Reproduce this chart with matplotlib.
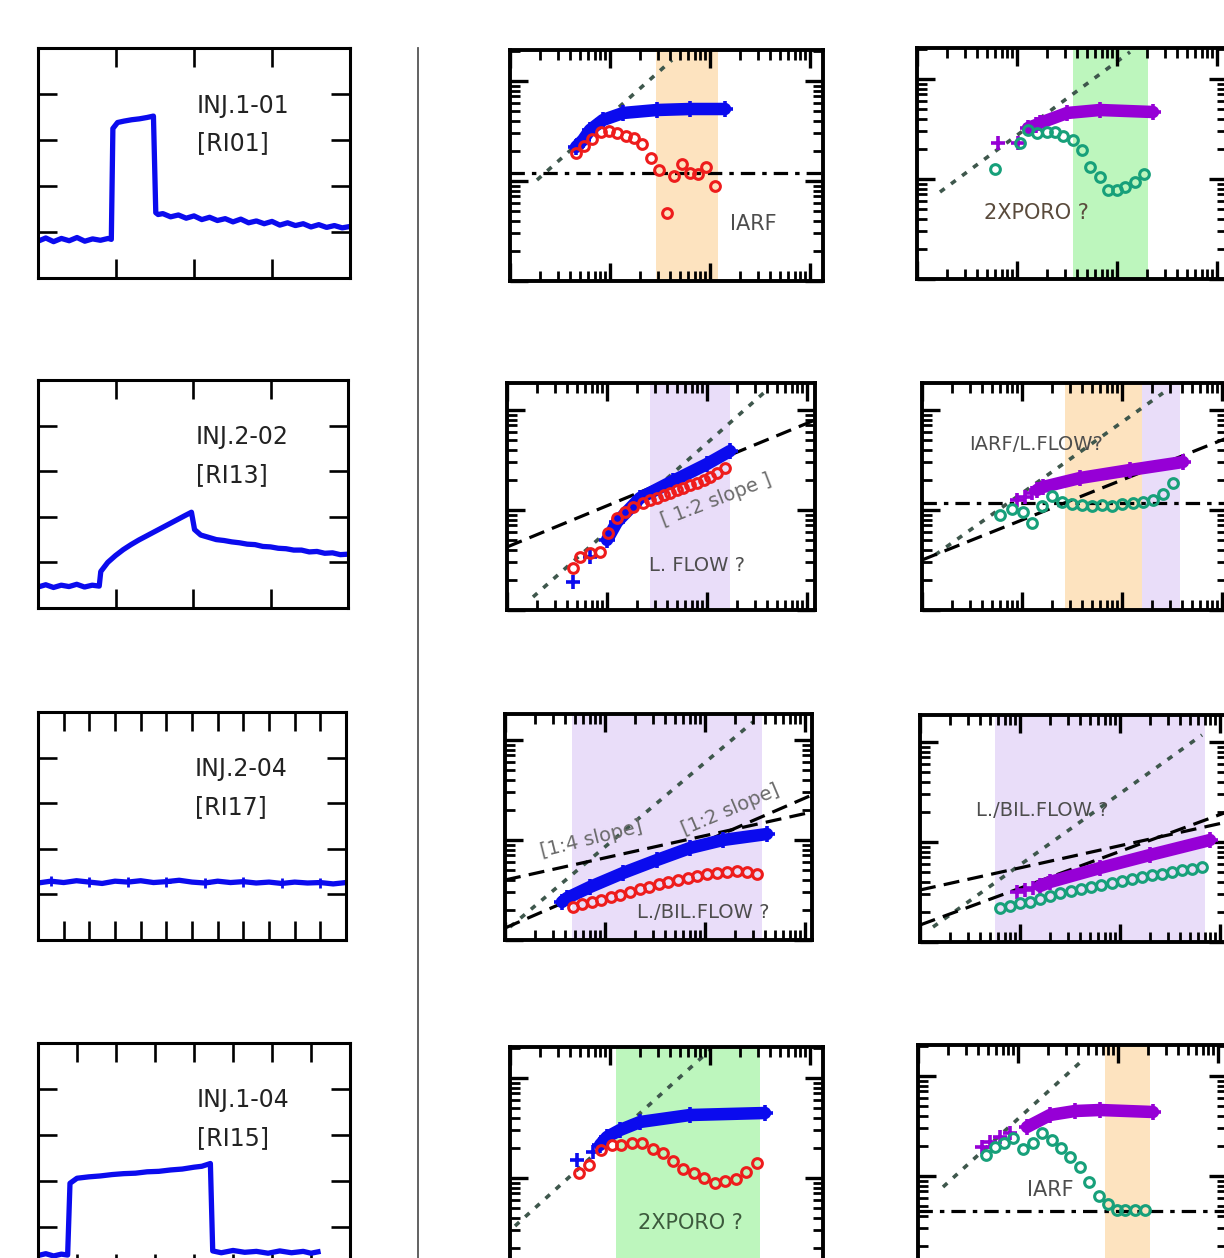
import matplotlib.pyplot as plt
import numpy as np
from matplotlib.lines import Line2D

# ---------------- left column : pressure records (time, pressure) ----------------
l1_t = [0, 1, 2, 3, 4, 5, 6, 7, 8, 9, 9.4, 9.6, 10.2, 11, 12, 13, 14, 14.8, 15.1, 15.4,
        16, 17, 18, 19, 20, 21, 22, 23, 24, 25, 26, 27, 28, 29, 30, 31, 32, 33, 34, 35,
        36, 37, 38, 39, 40]
l1_p = [0.80, 0.87, 0.79, 0.86, 0.81, 0.88, 0.80, 0.85, 0.82, 0.86, 0.84, 3.25, 3.38, 3.41,
        3.44, 3.46, 3.49, 3.52, 1.42, 1.38, 1.40, 1.33, 1.37, 1.30, 1.35, 1.27, 1.32, 1.25,
        1.29, 1.22, 1.28, 1.20, 1.24, 1.18, 1.23, 1.15, 1.20, 1.14, 1.18, 1.11, 1.16, 1.10,
        1.14, 1.09, 1.12]

l2_t = [0, 1, 2, 3, 4, 5, 6, 7, 7.9, 8.1, 9, 10, 11, 12, 13, 14, 15, 16, 17, 18, 19, 19.8,
        20.2, 21, 22, 23, 24, 25, 26, 27, 28, 29, 30, 31, 32, 33, 34, 35, 36, 37, 38, 39, 40]
l2_p = [0.46, 0.51, 0.45, 0.50, 0.47, 0.52, 0.46, 0.50, 0.48, 0.80, 1.00, 1.15, 1.28, 1.39,
        1.49, 1.58, 1.67, 1.76, 1.85, 1.94, 2.03, 2.10, 1.72, 1.60, 1.55, 1.50, 1.48, 1.45,
        1.43, 1.40, 1.39, 1.35, 1.34, 1.31, 1.30, 1.27, 1.27, 1.23, 1.24, 1.20, 1.21, 1.17,
        1.18]

l3_t = [0, 0.5, 1, 1.5, 2, 2.5, 3, 3.5, 4, 4.5, 5, 5.5, 6, 6.5, 7, 7.5, 8, 8.5, 9, 9.5, 10,
        10.5, 11, 11.5, 12]
l3_p = [1.25, 1.29, 1.26, 1.30, 1.27, 1.24, 1.29, 1.27, 1.30, 1.26, 1.28, 1.31, 1.27, 1.25,
        1.29, 1.26, 1.28, 1.25, 1.27, 1.24, 1.27, 1.25, 1.26, 1.23, 1.26]

l4_t = [0, 0.2, 0.4, 0.6, 0.76, 0.82, 1.0, 1.3, 1.6, 1.9, 2.2, 2.5, 2.8, 3.1, 3.4, 3.7, 4.0,
        4.2, 4.42, 4.48, 4.7, 5.0, 5.3, 5.6, 5.9, 6.2, 6.5, 6.8, 7.0, 7.18]
l4_p = [0.38, 0.42, 0.37, 0.41, 0.39, 1.95, 2.06, 2.09, 2.11, 2.14, 2.16, 2.17, 2.20, 2.21,
        2.24, 2.26, 2.30, 2.32, 2.38, 0.48, 0.44, 0.49, 0.45, 0.47, 0.43, 0.48, 0.44, 0.47,
        0.43, 0.46]

inj_names = ["INJ.1-01", "INJ.2-02", "INJ.2-04", "INJ.1-04"]
inj_codes = ["[RI01]", "[RI13]", "[RI17]", "[RI15]"]

# ------------- log-log diagnostics, stored as log10(dt) / log10(dp) -------------
# middle column (blue pressure, red derivative)
m1_red_lt = [-1.34, -1.26, -1.18, -1.09, -1.01, -0.93, -0.84, -0.76, -0.68, -0.59, -0.51,
             -0.43, -0.36, -0.28, -0.20, -0.12, -0.04, 0.05]
m1_red_lp = [0.28, 0.35, 0.42, 0.49, 0.50, 0.48, 0.45, 0.43, 0.37, 0.23, 0.11, -0.32, 0.05,
             0.17, 0.08, 0.07, 0.14, -0.05]
m1_blue_lt = [-1.34, -1.27, -1.20, -1.07, -0.87, -0.53, -0.20, 0.15]
m1_blue_lp = [0.34, 0.41, 0.51, 0.61, 0.68, 0.71, 0.72, 0.72]
m1_unit_lt = [-1.73, -0.38]
m1_unit_lp = [0.01, 1.21]
m1_flat_lp = 0.08
m1_zone = [-0.54, 0.08]

m2_red_lt = [-1.34, -1.27, -1.17, -1.07, -0.99, -0.90, -0.82, -0.74, -0.64, -0.57, -0.50,
             -0.43, -0.37, -0.30, -0.24, -0.17, -0.10, -0.03, 0.03, 0.10, 0.18]
m2_red_lp = [-0.58, -0.47, -0.43, -0.42, -0.23, -0.08, -0.02, 0.03, 0.07, 0.10, 0.12, 0.15,
             0.17, 0.20, 0.22, 0.25, 0.27, 0.30, 0.33, 0.37, 0.42]
m2_early_lt = [-1.34, -1.17]
m2_early_lp = [-0.72, -0.47]
m2_blue_lt = [-1.00, -0.90, -0.67, -0.34, 0.00, 0.23]
m2_blue_lp = [-0.30, -0.12, 0.12, 0.29, 0.46, 0.59]
m2_unit_lt = [-1.74, 0.60]
m2_unit_lp = [-0.87, 1.20]
m2_half_lt = [-2.0, 1.08]
m2_half_lp = [-0.37, 0.90]
m2_zone = [-0.57, 0.23]

m3_red_lt = [-1.32, -1.23, -1.13, -1.04, -0.94, -0.85, -0.75, -0.65, -0.56, -0.46, -0.37,
             -0.27, -0.17, -0.08, 0.02, 0.12, 0.22, 0.32, 0.42, 0.52]
m3_red_lp = [-0.67, -0.64, -0.62, -0.60, -0.57, -0.55, -0.52, -0.49, -0.47, -0.44, -0.42,
             -0.40, -0.38, -0.36, -0.34, -0.33, -0.32, -0.31, -0.32, -0.34]
m3_blue_lt = [-1.43, -1.38, -1.15, -0.82, -0.48, -0.15, 0.18, 0.62]
m3_blue_lp = [-0.62, -0.58, -0.47, -0.33, -0.20, -0.08, 0.00, 0.06]
m3_unit_lt = [-1.95, 0.48]
m3_unit_lp = [-0.87, 1.18]
m3_quarter_lt = [-2.0, 1.07]
m3_quarter_lp = [-0.40, 0.28]
m3_half_lt = [-2.0, 1.07]
m3_half_lp = [-0.88, 0.45]
m3_zone = [-1.33, 0.57]

m4_red_lt = [-1.31, -1.21, -1.09, -0.98, -0.89, -0.78, -0.68, -0.57, -0.47, -0.37, -0.27,
             -0.16, -0.06, 0.05, 0.15, 0.26, 0.36, 0.47]
m4_red_lp = [0.05, 0.13, 0.28, 0.33, 0.33, 0.35, 0.35, 0.29, 0.25, 0.17, 0.09, 0.05, 0.00,
             -0.05, -0.03, -0.01, 0.06, 0.15]
m4_early_lt = [-1.33, -1.17]
m4_early_lp = [0.18, 0.26]
m4_blue_lt = [-1.10, -1.03, -0.90, -0.70, -0.20, 0.55]
m4_blue_lp = [0.33, 0.41, 0.48, 0.56, 0.63, 0.65]
m4_unit_lt = [-1.95, 0.00]
m4_unit_lp = [-0.48, 1.28]
m4_zone = [-0.94, 0.50]

# right column (purple pressure, green derivative)
r1_teal_lt = [-1.22, -0.97, -0.89, -0.80, -0.70, -0.62, -0.54, -0.44, -0.35, -0.27, -0.17,
              -0.09, 0.00, 0.08, 0.18, 0.27]
r1_teal_lp = [0.10, 0.36, 0.49, 0.46, 0.47, 0.47, 0.43, 0.39, 0.29, 0.12, 0.02, -0.11, -0.11,
              -0.08, -0.03, 0.05]
r1_early_lt = [-1.19, -0.99]
r1_early_lp = [0.36, 0.36]
r1_purp_lt = [-0.89, -0.81, -0.77, -0.50, -0.17, 0.36]
r1_purp_lp = [0.51, 0.54, 0.56, 0.66, 0.69, 0.67]
r1_unit_lt = [-1.77, 0.13]
r1_unit_lp = [-0.13, 1.27]
r1_zone = [-0.44, 0.31]

r2_teal_lt = [-1.22, -1.10, -0.99, -0.90, -0.80, -0.70, -0.60, -0.50, -0.40, -0.30, -0.20,
              -0.10, 0.00, 0.11, 0.21, 0.31, 0.41, 0.51]
r2_teal_lp = [-0.05, 0.01, -0.02, -0.13, 0.04, 0.14, 0.08, 0.06, 0.05, 0.04, 0.05, 0.04,
              0.06, 0.07, 0.08, 0.10, 0.16, 0.27]
r2_early_lt = [-1.05, -0.97, -0.90]
r2_early_lp = [0.10, 0.13, 0.17]
r2_purp_lt = [-0.85, -0.79, -0.42, 0.08, 0.61]
r2_purp_lp = [0.20, 0.23, 0.32, 0.40, 0.48]
r2_unit_lt = [-1.87, 0.41]
r2_unit_lp = [-0.45, 1.17]
r2_half_lt = [-2.0, 1.05]
r2_half_lp = [-0.50, 0.72]
r2_flat_lp = 0.07
r2_zone_a = [-0.57, 0.20]
r2_zone_b = [0.20, 0.58]

r3_teal_lt = [-1.20, -1.10, -1.00, -0.90, -0.80, -0.70, -0.60, -0.49, -0.39, -0.29, -0.19,
              -0.08, 0.02, 0.12, 0.22, 0.32, 0.42, 0.52, 0.62, 0.72, 0.82]
r3_teal_lp = [-0.66, -0.64, -0.61, -0.60, -0.57, -0.54, -0.51, -0.49, -0.47, -0.45, -0.43,
              -0.41, -0.39, -0.37, -0.35, -0.33, -0.32, -0.30, -0.28, -0.27, -0.25]
r3_early_lt = [-1.03, -0.95, -0.87]
r3_early_lp = [-0.50, -0.48, -0.46]
r3_purp_lt = [-0.80, -0.70, -0.20, 0.30, 0.90]
r3_purp_lp = [-0.44, -0.40, -0.26, -0.13, 0.02]
r3_unit_lt = [-1.87, 0.82]
r3_unit_lp = [-0.85, 1.07]
r3_quarter_lt = [-2.0, 1.07]
r3_quarter_lp = [-0.48, 0.20]
r3_half_lt = [-2.0, 1.07]
r3_half_lp = [-0.83, 0.30]
r3_zone = [-1.25, 0.85]

r4_teal_lt = [-1.32, -1.23, -1.14, -1.05, -0.95, -0.85, -0.76, -0.66, -0.57, -0.48, -0.38,
              -0.29, -0.19, -0.10, -0.01, 0.07, 0.17, 0.27]
r4_teal_lp = [0.21, 0.29, 0.33, 0.38, 0.27, 0.33, 0.43, 0.36, 0.28, 0.19, 0.09, -0.06, -0.20,
              -0.28, -0.34, -0.34, -0.34, -0.34]
r4_early_lt = [-1.36, -1.28, -1.18, -1.08]
r4_early_lp = [0.29, 0.34, 0.39, 0.43]
r4_purp_lt = [-0.91, -0.68, -0.43, -0.18, 0.35]
r4_purp_lp = [0.49, 0.61, 0.65, 0.66, 0.64]
r4_unit_lt = [-1.75, -0.33]
r4_unit_lp = [-0.11, 1.18]
r4_flat_lp = -0.35
r4_zone = [-0.13, 0.32]

# ---------------------------------------------------------------------------------
BLUE = '#0b0bee'
RED = '#ee1c1c'
PURPLE = '#9600d6'
TEAL = '#17a07a'
DOT = '#3e574c'
ORANGE_Z = '#fde3bf'
GREEN_Z = '#bdf6bd'
LILAC_Z = '#e9ddf9'
TXT = '#4d4d4d'

W, H = 1224, 1258
fig = plt.figure(figsize=(W / 100, H / 100), dpi=100)
fig.patch.set_facecolor('white')


def px_axes(x0, y0, x1, y1):
    return fig.add_axes([x0 / W, 1 - y1 / H, (x1 - x0) / W, (y1 - y0) / H])


def trace_axes(x0, y0, x1, y1, xmax, step):
    ax = px_axes(x0, y0, x1, y1)
    ax.set_xlim(0, xmax)
    ax.set_ylim(0, 5)
    ax.set_xticks(np.arange(step, xmax - 1e-6, step))
    ax.set_yticks([1, 2, 3, 4])
    ax.tick_params(direction='in', top=True, right=True, length=14, width=1.9,
                   labelleft=False, labelbottom=False)
    for s in ax.spines.values():
        s.set_linewidth(2.2)
    return ax


def diag_axes(x0, y0, x1, y1):
    ax = px_axes(x0, y0, x1, y1)
    ax.set_xscale('log')
    ax.set_yscale('log')
    ax.set_xlim(10 ** -2, 10 ** (-2 + (x1 - x0) / 100))
    ax.set_ylim(10 ** -1, 10 ** (-1 + (y1 - y0) / 100))
    ax.tick_params(which='both', direction='in', top=True, right=True,
                   labelleft=False, labelbottom=False)
    ax.tick_params(which='major', length=13, width=2.4)
    ax.tick_params(which='minor', length=7, width=2.0)
    for s in ax.spines.values():
        s.set_linewidth(2.8)
    return ax


def P(a):
    return 10 ** np.asarray(a, dtype=float)


def zone(ax, z, c):
    ax.axvspan(P(z[0]), P(z[1]), color=c, lw=0, zorder=0)


def unit(ax, lt, lp):
    ax.plot(P(lt), P(lp), color=DOT, lw=2.6, ls=(0, (1.6, 2.2)), zorder=1)


def dashed(ax, lt, lp):
    ax.plot(P(lt), P(lp), color='black', lw=2.3, ls=(0, (5, 2.6)), zorder=1)


def flat(ax, lp):
    ax.axhline(P(lp), color='black', lw=2.3, ls=(0, (4.5, 2.2, 1.4, 2.2)), zorder=1)


def circles(ax, lt, lp, c):
    ax.plot(P(lt), P(lp), 'o', mfc='none', mec=c, mew=2.2, ms=7, zorder=4)


def band(ax, lt, lp, c, early=None):
    ax.plot(P(lt), P(lp), '-', color=c, lw=9, solid_capstyle='round', zorder=3)
    ax.plot(P(lt), P(lp), '+', color=c, ms=11, mew=2.6, zorder=3)
    if early is not None:
        ax.plot(P(early[0]), P(early[1]), '+', color=c, ms=10, mew=2.6, zorder=3)


def label(ax, x, y, s, size=14, rot=0, color=TXT):
    ax.text(x, y, s, transform=ax.transAxes, ha='center', va='center', fontsize=size,
            rotation=rot, color=color, zorder=5)


# ---------------- left column ----------------
left_boxes = [(38, 48, 350, 278, 40, 10), (38, 380, 348, 608, 40, 10),
              (38, 712, 346, 940, 12, 1), (38, 1043, 350, 1273, 8, 1)]
traces = [(l1_t, l1_p), (l2_t, l2_p), (l3_t, l3_p), (l4_t, l4_p)]
for k, (box, tr) in enumerate(zip(left_boxes, traces)):
    ax = trace_axes(*box)
    ax.plot(tr[0], tr[1], color=BLUE, lw=3.8, solid_joinstyle='round')
    if k == 2:
        ax.plot(tr[0][1::3], tr[1][1::3], '+', color=BLUE, ms=7, mew=2)
    ax.text(0.51, 0.75, inj_names[k], transform=ax.transAxes, va='center', fontsize=17,
            color='#222222')
    ax.text(0.51, 0.585, inj_codes[k], transform=ax.transAxes, va='center', fontsize=17,
            color='#222222')

fig.add_artist(Line2D([418 / W, 418 / W], [1 - 48 / H, 0], color='#555555', lw=1.3))

# ---------------- middle column ----------------
ax = diag_axes(510, 50, 823, 281)
zone(ax, m1_zone, ORANGE_Z)
unit(ax, m1_unit_lt, m1_unit_lp)
flat(ax, m1_flat_lp)
band(ax, m1_blue_lt, m1_blue_lp, BLUE)
circles(ax, m1_red_lt, m1_red_lp, RED)
label(ax, 0.776, 0.247, 'IARF', size=15)

ax = diag_axes(507, 383, 815, 610)
zone(ax, m2_zone, LILAC_Z)
unit(ax, m2_unit_lt, m2_unit_lp)
dashed(ax, m2_half_lt, m2_half_lp)
band(ax, m2_blue_lt, m2_blue_lp, BLUE, (m2_early_lt, m2_early_lp))
circles(ax, m2_red_lt, m2_red_lp, RED)
label(ax, 0.68, 0.485, '[ 1:2 slope ]', rot=21, color='#6a6a6a')
label(ax, 0.617, 0.198, 'L. FLOW ?')

ax = diag_axes(505, 714, 812, 940)
zone(ax, m3_zone, LILAC_Z)
unit(ax, m3_unit_lt, m3_unit_lp)
dashed(ax, m3_quarter_lt, m3_quarter_lp)
dashed(ax, m3_half_lt, m3_half_lp)
band(ax, m3_blue_lt, m3_blue_lp, BLUE)
circles(ax, m3_red_lt, m3_red_lp, RED)
label(ax, 0.28, 0.445, '[1:4 slope]', rot=14, color='#6a6a6a')
label(ax, 0.735, 0.575, '[1:2 slope]', rot=23, color='#6a6a6a')
label(ax, 0.645, 0.12, 'L./BIL.FLOW ?')

ax = diag_axes(510, 1047, 823, 1278)
zone(ax, m4_zone, GREEN_Z)
unit(ax, m4_unit_lt, m4_unit_lp)
band(ax, m4_blue_lt, m4_blue_lp, BLUE, (m4_early_lt, m4_early_lp))
circles(ax, m4_red_lt, m4_red_lp, RED)
label(ax, 0.575, 0.238, '2XPORO ?', size=15, color='#3d5a3d')

# ---------------- right column ----------------
ax = diag_axes(917, 48, 1227, 279)
zone(ax, r1_zone, GREEN_Z)
unit(ax, r1_unit_lt, r1_unit_lp)
band(ax, r1_purp_lt, r1_purp_lp, PURPLE, (r1_early_lt, r1_early_lp))
circles(ax, r1_teal_lt, r1_teal_lp, TEAL)
label(ax, 0.384, 0.286, '2XPORO ?', size=15, color='#5a4b3c')

ax = diag_axes(922, 383, 1227, 610)
zone(ax, r2_zone_a, ORANGE_Z)
zone(ax, r2_zone_b, LILAC_Z)
unit(ax, r2_unit_lt, r2_unit_lp)
dashed(ax, r2_half_lt, r2_half_lp)
flat(ax, r2_flat_lp)
band(ax, r2_purp_lt, r2_purp_lp, PURPLE, (r2_early_lt, r2_early_lp))
circles(ax, r2_teal_lt, r2_teal_lp, TEAL)
label(ax, 0.374, 0.727, 'IARF/L.FLOW?')

ax = diag_axes(920, 715, 1227, 942)
zone(ax, r3_zone, LILAC_Z)
unit(ax, r3_unit_lt, r3_unit_lp)
dashed(ax, r3_quarter_lt, r3_quarter_lp)
dashed(ax, r3_half_lt, r3_half_lp)
band(ax, r3_purp_lt, r3_purp_lp, PURPLE, (r3_early_lt, r3_early_lp))
circles(ax, r3_teal_lt, r3_teal_lp, TEAL)
label(ax, 0.397, 0.58, 'L./BIL.FLOW ?')

ax = diag_axes(918, 1045, 1227, 1276)
zone(ax, r4_zone, ORANGE_Z)
unit(ax, r4_unit_lt, r4_unit_lp)
flat(ax, r4_flat_lp)
band(ax, r4_purp_lt, r4_purp_lp, PURPLE, (r4_early_lt, r4_early_lp))
circles(ax, r4_teal_lt, r4_teal_lp, TEAL)
label(ax, 0.427, 0.372, 'IARF', size=15)

fig.savefig('out.png', dpi=100)
